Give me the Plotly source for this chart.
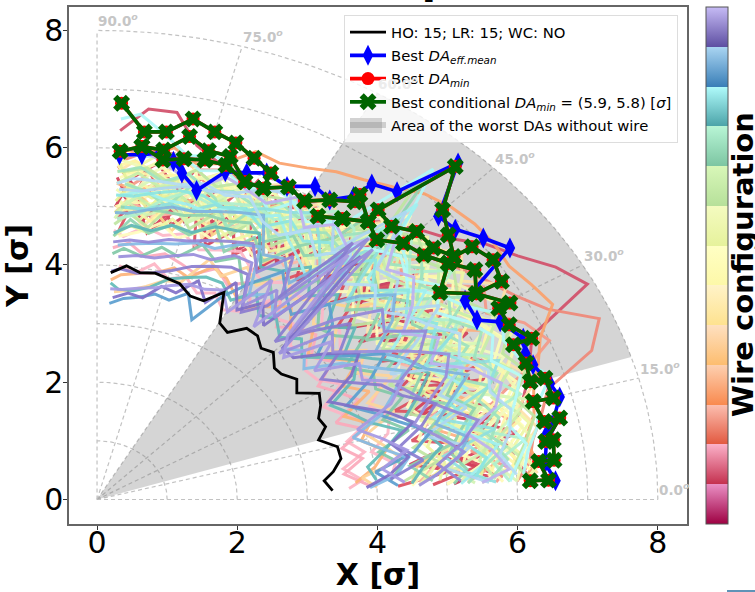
import numpy as np
import plotly.graph_objects as go

ANGLES = [3,6.5,10,13.5,17,20.5,24,27.5,31,34.5,38,41.5,45,48.5,52,55.5,59,62.5,66,69.5,73,76.5,80,83.5,87]
ANGLE_SHIFTS = [-1.2,0.8,-0.4,1.4,0.2,-0.9,1.1,-1.5,0.5,1.7,-0.7]

CRIMSON = [
[5.1,5.6,4.9,5.4,5.9,5.0,5.7,5.2,5.8,4.9,5.5,5.9,5.1,5.6,5.0,5.4,4.8,5.3,4.7,5.1,5.6,4.9,5.3,4.8,5.2],
[5.8,5.2,6.1,5.5,4.9,5.7,5.1,6.0,5.3,4.8,5.6,5.0,5.9,5.2,4.7,5.4,4.9,5.5,5.0,4.6,5.2,4.8,5.4,5.0,5.5],
[4.8,5.5,5.0,5.9,5.3,6.0,4.7,5.4,4.9,5.7,5.1,5.6,4.8,5.5,5.8,5.0,5.6,4.7,5.3,5.6,4.9,5.3,4.7,5.2,4.8],
[5.4,4.7,5.6,5.0,5.8,4.9,5.5,4.8,5.6,5.2,4.6,5.3,5.7,4.9,5.3,5.9,5.2,5.8,5.4,5.0,5.7,5.4,5.8,5.5,5.0],
[6.2,6.0,5.9,6.2,6.4,6.6,6.8,7.9,7.65,7.3,7.05,6.7,6.5,6.3,6.0,5.7,5.8,5.6,5.7,5.9,6.0,6.2,6.7,6.7,6.3],
[4.3,5.1,5.8,4.6,5.3,4.5,6.0,5.6,4.7,5.9,5.0,4.5,5.4,6.0,5.1,4.6,5.7,5.0,4.6,5.4,4.5,5.9,5.1,5.7,4.6],
[5.6,4.5,5.3,5.8,4.7,5.4,4.9,5.2,6.1,4.6,5.9,5.2,4.6,5.1,5.6,5.2,4.5,5.6,5.9,4.7,5.3,5.1,4.6,5.4,5.7],
]
CRIMSON_COLORS = ['#c83a5c','#d4405a','#d94a5c','#cf3a52','#d2506a','#dd5060','#d4405a']

PINK = [
[3.6,3.8,3.55,3.9,3.7,4.1,3.8,3.6,4.0,3.75,3.7,3.9,3.8,4.1,4.0,4.2,3.8,3.7,3.9,3.8,4.0,3.9,4.1,3.9,4.0],
[3.9,3.55,3.85,3.6,4.0,3.65,4.1,3.9,3.7,4.1,3.9,4.2,4.1,3.9,4.3,3.9,4.3,4.1,4.3,4.1,4.2,4.3,4.2,4.4,4.3],
[4.2,4.3,4.0,4.3,4.4,4.2,4.5,4.3,4.5,4.3,4.5,4.4,4.7,4.5,4.6,4.4,4.5,4.7,4.6,4.5,4.7,4.6,4.7,4.5,4.6],
]
PINK_COLORS = ['#fdb5c5','#fbaabb','#fdb8c8']

SALMON = [
[6.0,6.2,6.3,6.5,6.7,7.5,7.8,7.2,6.9,6.7,6.5,6.3,6.4,6.1,5.9,5.7,5.9,5.7,5.5,5.8,5.9,5.8,6.0,6.0,5.8],
[5.7,5.9,5.4,6.1,5.8,6.4,7.0,6.8,6.4,6.6,6.1,5.7,6.0,5.6,5.3,5.6,5.2,5.5,5.7,5.3,5.5,5.7,5.4,5.6,5.3],
[4.6,4.9,5.2,4.8,5.1,5.5,5.2,4.9,5.4,5.0,5.3,4.8,5.2,4.9,5.2,4.8,5.0,4.8,5.1,4.9,5.1,5.0,4.9,5.1,4.9],
]
SALMON_COLORS = ['#f08878','#f59a88','#fcb8a8']

ORANGE = [
[6.1,6.3,6.2,6.4,6.5,6.7,6.9,7.3,7.2,7.1,7.15,7.15,7.1,7.0,6.8,6.65,6.55,6.4,6.3,6.35,6.0,5.9,6.1,5.9,6.0],
[3.7,4.0,4.2,3.9,4.1,3.8,4.3,4.0,4.4,4.1,3.9,4.2,4.0,4.3,4.1,3.9,4.0,4.2,4.3,4.0,4.1,3.95,3.9,3.85,3.75],
[5.3,5.8,5.5,5.0,5.6,5.3,5.9,6.2,5.6,6.0,5.7,6.2,5.6,5.9,5.5,5.8,5.5,5.3,5.5,5.2,5.4,5.2,5.5,5.3,5.4],
]
ORANGE_COLORS = ['#fba26c','#fdb47a','#fdb080']

AMBER = [
[4.0,3.8,4.4,4.2,4.0,4.5,4.2,4.7,4.3,4.6,4.2,4.5,4.3,4.6,4.4,4.7,4.3,4.5,4.2,4.4,3.9,3.85,3.7,3.6,3.55],
[6.3,6.1,6.4,6.2,6.6,6.3,6.7,6.5,6.9,6.4,6.7,6.3,6.5,6.2,5.8,6.1,5.7,6.0,5.8,6.0,5.7,5.9,5.6,5.8,5.6],
[5.0,5.3,4.7,5.6,4.9,5.8,5.3,5.5,5.0,5.4,4.8,5.1,5.5,5.2,5.7,5.0,5.4,5.1,4.8,5.5,4.7,5.4,5.2,4.7,5.1],
[4.5,4.6,5.1,4.9,5.5,5.1,4.9,5.2,5.6,5.1,5.5,4.9,4.7,5.4,4.9,5.3,4.7,5.2,5.3,4.8,5.3,4.7,5.0,5.3,4.9],
]
AMBER_COLORS = ['#fed49a','#fee2a8','#ffe6b0','#fdd48a']

YELLOW = [
[6.2,5.9,6.2,6.0,6.3,6.1,6.4,6.2,6.0,6.3,6.0,6.4,6.1,6.3,5.7,5.9,5.6,5.8,5.6,5.5,5.7,5.6,5.8,5.5,5.7],
[5.5,6.0,5.7,6.2,5.6,5.9,6.1,5.7,6.2,5.8,6.3,5.8,6.2,5.7,5.4,5.7,5.3,5.5,5.2,5.6,5.3,5.5,5.2,5.4,5.2],
[5.0,5.4,5.9,5.3,5.7,5.2,5.6,6.0,5.5,6.0,5.4,5.9,5.3,5.8,5.2,5.5,5.1,5.6,5.0,5.3,5.5,5.0,5.5,5.2,5.4],
[4.7,5.1,5.3,5.7,5.2,5.5,5.0,5.4,5.1,5.5,5.7,5.2,5.6,5.1,5.5,4.9,5.3,4.9,5.3,4.9,5.0,5.3,4.8,5.0,4.9],
[5.8,5.6,5.1,5.4,6.0,5.7,5.3,5.8,5.9,5.3,5.1,5.6,5.9,6.0,5.0,5.2,5.7,5.2,5.6,5.7,5.2,5.8,5.4,5.7,5.5],
[5.2,5.3,5.5,5.2,5.4,5.6,5.3,5.6,5.4,5.7,5.5,5.3,5.6,5.4,5.3,5.6,5.4,5.5,5.1,5.3,5.1,5.2,5.1,5.1,5.0],
[5.9,6.0,5.8,6.0,5.9,6.2,6.0,6.3,6.1,6.2,6.0,6.2,6.0,6.2,5.8,5.6,5.5,5.6,5.4,5.7,5.5,5.7,5.6,5.6,5.6],
[4.5,4.7,4.9,4.7,4.9,4.7,5.0,4.8,5.0,4.8,5.0,4.8,5.1,4.8,5.1,4.8,4.9,4.7,4.9,4.7,4.8,4.6,4.8,4.6,4.5],
[5.6,5.8,5.6,5.9,5.7,5.9,5.8,5.9,5.7,5.9,5.8,6.0,5.9,5.6,5.5,5.4,5.6,5.4,5.7,5.6,5.6,5.5,5.6,5.8,5.7],
]
YELLOW_COLORS = ['#ffffb5','#fff7a8','#ffffc0','#fef6a5','#fffbb8']

CITRON = [
[6.1,6.3,6.0,6.3,6.1,6.4,6.2,6.6,6.3,6.1,6.5,6.1,6.5,6.0,5.6,5.5,5.8,5.9,5.4,5.7,5.8,5.4,5.7,5.9,5.6],
[5.2,5.7,5.5,5.9,5.5,6.2,5.7,6.3,5.8,6.2,5.6,6.0,5.4,6.1,5.3,5.8,5.4,5.2,5.5,5.1,5.6,5.2,5.6,5.1,5.3],
[4.9,5.2,5.6,5.1,5.9,5.4,6.0,5.1,5.7,5.6,5.2,5.5,5.8,5.4,5.6,5.1,5.9,5.4,5.1,5.5,4.9,5.6,5.0,5.4,5.8],
[4.6,4.8,5.0,5.5,4.8,5.6,4.8,5.7,5.2,4.8,5.9,5.4,5.0,5.7,4.9,5.4,4.9,5.7,5.2,4.8,5.4,5.0,5.3,4.8,5.1],
[5.6,5.4,6.0,5.7,6.2,5.8,6.3,5.9,5.4,6.4,5.8,6.2,5.7,6.6,5.9,5.3,5.5,5.0,5.8,5.5,5.0,5.5,5.9,5.6,5.0],
[4.9,5.0,4.8,5.0,5.2,5.0,5.3,5.1,5.3,5.0,5.3,5.1,5.4,5.2,5.0,5.2,4.9,5.1,4.8,5.0,4.7,4.9,4.6,4.7,4.5],
[6.0,6.1,6.3,6.1,6.3,6.2,6.5,6.3,6.6,6.4,6.2,6.5,6.3,6.1,6.0,5.8,6.0,5.7,5.9,5.6,5.8,5.6,5.9,5.7,5.8],
[5.5,5.6,5.4,5.6,5.4,5.7,5.5,5.8,5.5,5.7,5.9,5.6,5.8,5.5,5.7,5.5,5.3,5.4,5.2,5.4,5.5,5.3,5.2,5.4,5.1],
]
CITRON_COLORS = ['#eef7a5','#f2f9b5','#e8f29a','#eef8aa','#f4fbc0']

LIME = [
[5.9,6.1,5.8,6.2,5.9,6.3,6.0,6.4,6.1,5.9,6.2,6.5,6.2,5.9,5.4,5.7,5.2,5.6,5.3,5.6,5.1,5.3,5.0,5.2,4.9],
[5.4,5.1,5.7,5.3,5.7,5.2,5.7,5.3,6.0,5.4,6.0,5.5,6.0,5.3,5.8,5.2,5.6,5.3,5.7,5.2,5.7,5.1,5.5,5.3,5.0],
[4.4,4.9,4.6,5.2,4.7,5.0,4.6,5.6,4.8,5.3,4.7,5.1,5.3,7.0,5.2,5.5,5.0,5.5,4.9,5.2,4.8,5.2,4.7,4.9,4.7],
[6.0,5.8,5.5,5.9,6.4,5.6,5.5,6.1,5.2,5.7,5.4,5.8,5.6,6.3,5.7,5.4,5.2,5.9,5.0,5.8,5.4,4.9,5.3,5.5,5.2],
[5.7,5.5,5.7,5.5,5.7,5.5,5.8,5.6,5.8,5.6,5.8,5.6,5.8,5.6,5.4,5.6,5.4,5.6,5.3,5.4,5.2,5.5,5.4,5.6,5.4],
[5.0,5.2,5.1,5.3,5.1,5.4,5.2,5.5,5.2,5.5,5.2,5.4,5.1,5.4,5.1,5.3,5.1,5.3,5.0,5.2,4.9,5.1,4.9,5.1,4.8],
[6.2,6.0,6.2,6.4,6.2,6.5,6.3,6.6,6.4,6.2,6.4,6.2,6.4,6.2,5.9,5.9,5.7,5.8,5.7,5.8,5.6,5.8,5.5,5.7,5.6],
]
LIME_COLORS = ['#c8eeaa','#d2f4b4','#bfe6a2','#d8f7b8']

MINT = [
[5.3,5.5,5.9,5.6,6.0,5.9,5.4,5.9,5.7,6.3,5.7,6.1,5.8,6.4,5.5,5.6,5.4,5.1,5.6,5.0,5.4,5.6,5.1,5.3,5.4],
[4.8,4.5,5.2,4.9,5.3,4.8,5.1,4.7,5.4,4.7,5.2,4.8,5.4,7.2,5.6,5.2,4.7,5.0,4.6,5.0,4.7,4.8,4.6,4.8,4.5],
[5.9,5.7,6.2,5.4,6.3,6.0,6.1,5.5,6.0,5.5,6.4,5.9,6.3,5.5,5.9,6.0,5.7,5.4,5.5,5.4,5.3,5.4,5.2,4.9,4.8],
[4.2,4.4,4.1,4.6,4.3,4.7,4.4,4.5,4.2,4.7,4.4,4.3,4.6,4.9,4.2,4.5,4.2,4.6,4.4,4.6,4.3,4.4,4.2,4.3,4.2],
[5.6,5.9,5.7,5.9,5.7,6.1,5.9,6.2,5.9,6.1,5.9,6.2,5.9,6.1,5.7,5.8,5.6,5.7,5.5,5.6,5.5,5.7,5.5,5.7,5.6],
[5.1,5.3,5.1,5.3,5.6,5.3,5.6,5.3,5.6,5.4,5.6,5.3,5.5,5.2,5.4,5.1,5.3,5.0,5.2,5.1,5.1,5.0,5.0,5.0,5.0],
]
MINT_COLORS = ['#9fe3bf','#8fd4b0','#b0f0cf','#82c9a8']

TEAL = [
[6.1,6.2,6.4,6.5,6.8,6.5,6.4,6.6,6.2,6.0,5.7,6.0,6.2,7.4,5.9,5.7,5.9,5.5,5.8,6.0,6.1,6.0,6.3,6.6,6.5],
[5.7,5.3,5.0,5.8,5.1,5.9,6.2,5.2,5.9,5.2,5.0,5.5,4.9,6.0,5.0,5.4,5.8,5.6,5.5,5.3,5.3,5.1,5.15,5.0,5.0],
[4.5,4.7,5.0,4.8,4.6,4.9,5.2,5.0,4.6,4.3,4.7,4.4,4.9,4.6,5.0,4.7,4.6,5.1,5.0,4.95,4.75,4.8,4.65,4.7,4.55],
[4.0,3.9,4.2,4.5,4.1,3.9,3.7,4.2,4.4,4.1,3.8,4.0,3.8,4.0,3.9,4.2,3.9,4.1,4.1,4.0,3.9,3.7,3.6,3.6,3.7],
[5.2,5.5,5.8,5.3,5.0,5.6,5.4,5.1,4.8,5.3,5.9,5.3,5.4,6.8,4.8,5.0,5.2,5.5,5.3,5.35,5.15,5.2,5.2,5.3,5.2],
[5.9,6.0,6.2,6.0,6.2,6.4,6.1,6.3,6.1,5.8,6.1,5.8,6.0,5.8,5.6,5.8,5.6,5.8,5.9,5.7,5.9,5.8,6.0,5.9,5.9],
[5.4,5.6,5.3,5.5,5.3,5.6,5.7,5.4,5.7,5.4,5.7,5.3,5.7,5.3,5.5,5.3,5.5,5.2,5.4,5.3,5.4,5.4,5.3,5.2,5.2],
]
TEAL_COLORS = ['#aef8f8','#8fe0e0','#5fb8b8','#62bcb8','#a0f0f0','#b4fafa','#8ce6e2']

BLUE = [
[5.6,5.0,5.4,4.8,5.5,5.2,5.7,4.7,5.3,5.9,5.3,5.7,5.6,6.6,5.4,5.9,5.3,5.9,5.8,5.6,5.5,5.5,5.4,5.3,5.3],
[4.8,5.2,5.4,5.0,5.3,5.7,5.2,5.0,4.7,5.2,5.5,5.1,4.5,5.5,4.6,4.9,4.8,5.4,5.3,5.2,5.1,5.1,5.0,4.9,4.9],
[4.3,4.0,4.6,4.9,4.5,4.2,3.9,4.4,4.8,4.3,4.0,4.5,4.7,4.2,4.4,4.7,4.3,3.9,3.35,3.75,3.55,3.6,3.5,3.45,3.35],
[3.9,4.3,4.5,4.1,3.8,4.3,4.6,4.9,4.5,4.2,3.7,3.9,3.7,5.3,4.0,4.3,4.1,4.9,4.8,4.6,4.6,4.5,4.45,4.4,4.35],
[6.0,5.8,6.0,6.1,5.9,6.0,5.7,5.9,5.6,5.4,5.1,5.4,5.1,5.6,5.2,5.5,5.2,5.3,5.6,5.5,5.6,5.5,5.5,5.5,5.4],
]
BLUE_COLORS = ['#aed6f2','#7fb4de','#5c9fd0','#85bce6','#b4dcf6']

PURPLE = [
[5.5,5.9,5.7,5.4,5.9,6.1,5.8,5.3,5.6,5.2,5.6,5.9,5.7,6.3,5.6,5.8,5.5,5.9,5.6,5.7,5.8,5.5,5.7,5.9,6.0],
[5.2,4.9,5.3,5.6,5.2,4.9,4.7,5.2,5.5,5.0,5.2,4.6,3.9,5.9,4.3,5.0,4.5,4.9,4.8,4.7,4.6,4.55,4.45,4.45,4.4],
[4.2,4.7,4.4,4.8,5.1,4.7,4.5,4.1,3.8,4.3,4.7,4.2,3.7,5.7,4.1,3.8,4.4,4.4,4.3,4.2,4.05,3.95,3.9,3.95,3.9],
[3.85,4.2,4.5,4.3,4.7,4.4,4.0,3.7,4.2,4.5,4.1,3.7,3.7,5.6,3.8,4.1,3.8,4.2,3.7,4.0,3.7,3.75,3.5,3.55,3.45],
[4.6,4.9,5.3,5.0,4.7,5.0,5.4,5.6,5.1,4.6,4.2,4.4,3.6,5.8,4.0,4.4,3.9,4.6,4.6,4.4,4.4,4.3,4.2,4.2,4.15],
[4.4,4.1,4.5,4.2,3.9,4.5,4.8,4.3,4.4,3.8,4.3,3.6,3.9,5.5,3.7,4.5,3.7,4.0,3.9,3.9,3.8,3.7,3.65,3.6,3.6],
]
PURPLE_COLORS = ['#bdb2f0','#9488d8','#8a7dd0','#7f70c8','#9a8edc','#a69ae4']

NOMINAL_X = [0.195,0.42,0.61,0.83,1.18,1.33,1.52,1.81,1.75,1.86,2.135,2.29,2.34,2.515,2.53,2.63,2.85,2.85,3.17,3.19,3.16,3.26,3.16,3.43,3.48,3.37,3.24,3.36]
NOMINAL_Y = [3.87,3.985,3.87,3.86,3.68,3.47,3.39,3.53,3.01,2.85,2.92,2.79,2.58,2.51,2.24,2.14,2.05,1.82,1.81,1.61,1.385,1.24,1.015,0.90,0.70,0.475,0.32,0.15]

BEST_MEAN_X = [0.32,0.64,0.90,1.09,1.21,1.42,1.83,2.135,2.42,2.71,3.11,3.32,3.66,3.92,4.28,5.15,4.87,5.11,5.51,5.89,5.25,5.42,5.75,6.08,6.11,6.22,6.46,6.60,6.49,6.42,6.39,6.54]
BEST_MEAN_Y = [5.88,5.88,5.91,5.77,5.57,5.27,5.59,5.57,5.57,5.34,5.34,5.11,5.17,5.38,5.25,5.74,4.83,4.61,4.46,4.29,3.40,3.06,3.03,2.75,2.49,2.30,1.98,1.75,1.27,1.13,0.62,0.32]

BEST_COND_X = [0.35,0.675,0.99,1.37,1.68,1.98,2.24,2.48,2.37,2.11,1.84,1.54,1.24,0.94,0.64,0.33,0.64,0.95,1.32,1.59,1.90,2.11,2.37,2.73,2.96,3.32,3.68,3.75,3.87,3.50,3.15,3.50,3.87,3.99,4.37,4.66,5.01,4.89,5.41,5.39,5.01,5.09,5.01,4.93,5.11,4.01,4.20,4.56,4.80,5.09,5.35,5.65,5.77,5.41,5.89,5.73,5.88,6.20,5.94,6.12,6.18,6.39,6.51,6.22,6.38,6.60,6.40,6.51,6.52,6.30,6.44,6.18]
BEST_COND_Y = [6.76,6.27,6.27,6.49,6.27,6.08,5.82,5.57,5.31,5.42,5.70,5.79,5.81,5.79,6.02,5.94,6.02,5.96,6.19,5.95,5.85,5.42,5.31,5.33,5.09,5.11,5.08,5.20,4.74,4.79,4.83,4.79,4.74,4.43,4.37,4.17,4.03,3.53,3.51,3.92,4.03,4.14,4.51,4.94,5.68,4.94,4.66,4.57,4.29,4.14,4.31,4.09,3.72,3.51,3.35,3.26,2.98,2.75,2.64,2.33,2.01,2.07,1.73,1.67,1.33,1.39,0.99,1.02,0.67,0.65,0.33,0.32]

WEDGE_ANGLES = [17.7, 60.0]
WEDGE_RADIUS = 8.0
RINGS = [1,2,3,4,5,6,7,8]
RAYS = [0,15,30,45,60,75,90]
X_TICKS = [0,2,4,6,8]
Y_TICKS = [0,2,4,6,8]
# colour bar bands, bottom to top: (dark, light)
BANDS = [('#9e0142','#ea8fc4'),('#c4304e','#fbb0c8'),('#e2583f','#fcbfb0'),('#f98a4f','#fdd0b0'),
         ('#fdbd6f','#fee0c0'),('#fee28f','#fff3c8'),('#fdf8a8','#ffffc4'),('#e6f29c','#f4fbc0'),
         ('#b6e09a','#d8f7b8'),('#7cc5a2','#b8f5d5'),('#4ba3a8','#b0fbfb'),('#3a7fb8','#aad5f2'),
         ('#5e4fa2','#c6bbf5')]

scale = []
for i, (dark, light) in enumerate(BANDS):
    scale += [[i / len(BANDS), dark], [(i + 1) / len(BANDS), light]]

fig = go.Figure()
th = np.radians(np.linspace(0, 90, 91))
grid = dict(color='#c2c2c2', width=1.2, dash='4px,3px')
for r in RINGS:
    fig.add_trace(go.Scatter(x=r*np.cos(th), y=r*np.sin(th), mode='lines', line=grid, showlegend=False, hoverinfo='skip'))
for a in RAYS:
    fig.add_trace(go.Scatter(x=[0, 8*np.cos(np.radians(a))], y=[0, 8*np.sin(np.radians(a))], mode='lines', line=grid, showlegend=False, hoverinfo='skip'))

w = np.radians(np.linspace(WEDGE_ANGLES[0], WEDGE_ANGLES[1], 60))
fig.add_trace(go.Scatter(x=np.r_[0, WEDGE_RADIUS*np.cos(w), 0], y=np.r_[0, WEDGE_RADIUS*np.sin(w), 0],
    mode='none', fill='toself', fillcolor='rgba(128,128,128,0.33)', name='Area of the worst DAs without wire', legendrank=5, legendgroup='e', hoverinfo='skip'))

GROUPS = [(CRIMSON,CRIMSON_COLORS),(PINK,PINK_COLORS),(SALMON,SALMON_COLORS),(ORANGE,ORANGE_COLORS),
          (AMBER,AMBER_COLORS),(YELLOW,YELLOW_COLORS),(CITRON,CITRON_COLORS),(LIME,LIME_COLORS),
          (MINT,MINT_COLORS),(TEAL,TEAL_COLORS),(BLUE,BLUE_COLORS),(PURPLE,PURPLE_COLORS)]
n = 0
for rows, cols in GROUPS:
    for k, row in enumerate(rows):
        rr = np.array(row)
        ang = np.radians(np.clip(np.array(ANGLES) + ANGLE_SHIFTS[n % len(ANGLE_SHIFTS)], 3, 87))
        n += 1
        fig.add_trace(go.Scatter(x=rr*np.cos(ang), y=rr*np.sin(ang), mode='lines',
                                 line=dict(color=cols[k % len(cols)], width=3), opacity=0.92, showlegend=False, hoverinfo='skip'))

fig.add_trace(go.Scatter(x=NOMINAL_X, y=NOMINAL_Y, mode='lines', line=dict(color='black', width=2.8),
                         name='HO: 15; LR: 15; WC: NO', legendrank=1, legendgroup='a'))
fig.add_trace(go.Scatter(x=BEST_MEAN_X, y=BEST_MEAN_Y, mode='lines+markers', line=dict(color='#0000ff', width=3.6),
                         marker=dict(symbol='diamond-tall', size=15, color='#0000ff'),
                         name='Best <i>DA<sub>eff.mean</sub></i>', legendrank=2, legendgroup='b'))
fig.add_trace(go.Scatter(x=BEST_COND_X, y=BEST_COND_Y, mode='lines+markers', line=dict(color='#ff0000', width=3.6),
                         marker=dict(symbol='circle', size=13, color='#ff0000'),
                         name='Best <i>DA<sub>min</sub></i>', legendrank=3, legendgroup='c'))
fig.add_trace(go.Scatter(x=BEST_COND_X, y=BEST_COND_Y, mode='lines+markers', line=dict(color='#006400', width=3.6),
                         marker=dict(symbol='x', size=15, color='#006400'),
                         name='Best conditional <i>DA<sub>min</sub></i> = (5.9, 5.8) [<i>σ</i>]', legendrank=4, legendgroup='d'))

# colour bar carrier, outside the visible range
fig.add_trace(go.Scatter(x=[-5, -5], y=[-5, -5], mode='markers', showlegend=False, hoverinfo='skip',
    marker=dict(color=[0, 1], cmin=0, cmax=1, colorscale=scale, size=1, showscale=True,
        colorbar=dict(xref='container', x=706/755, xanchor='left', yref='paper', y=0, yanchor='bottom',
                      thickness=22, thicknessmode='pixels', len=1, lenmode='fraction', xpad=0, ypad=0,
                      outlinecolor='#555555', outlinewidth=1, ticks='', showticklabels=False))))

annotations = []
for a in RAYS:
    annotations.append(dict(x=8*np.cos(np.radians(a)), y=8*np.sin(np.radians(a)), xref='x', yref='y', showarrow=False,
        text=f'<b>{a:.1f}<i><sup>o</sup></i></b>', xanchor='left', yanchor='bottom', borderpad=0,
        font=dict(family='DejaVu Sans', size=13.5, color='#ececec' if a == 60 else '#c6c6c6')))
annotations.append(dict(x=(743-69)/618, y=(524-265)/517, xref='paper', yref='paper', showarrow=False, textangle=-90,
    text='<b>Wire configuration</b>', font=dict(family='DejaVu Sans', size=29, color='black'), xanchor='center', yanchor='middle'))
annotations.append(dict(x=(429-69)/618, y=1+1/517, xref='paper', yref='paper', showarrow=False, yanchor='bottom',
    text='<b>2</b>', font=dict(family='DejaVu Sans', size=14, color='black'), borderpad=0))
fig.update_layout(
    width=755, height=592, margin=dict(l=69, r=68, t=7, b=68, autoexpand=False),
    plot_bgcolor='white', paper_bgcolor='white', font=dict(family='DejaVu Sans', color='black'),
    annotations=annotations,
    shapes=[dict(type='line', xref='paper', yref='paper', x0=(727-69)/618, x1=(755-69)/618, y0=-(591-524)/517, y1=-(591-524)/517,
                 line=dict(color='#2a6f9f', width=1.5)),
            dict(type='rect', xref='paper', yref='paper', layer='above', x0=(350-69)/618, x1=(382-69)/618,
                 y0=(524-133)/517, y1=(524-118)/517, fillcolor='#1e1e1e', line=dict(width=0))],
    legend=dict(x=(344-69)/618, y=1-(15-7)/517, xanchor='left', yanchor='top', bgcolor='rgba(255,255,255,0.8)',
                bordercolor='#dddddd', borderwidth=1, font=dict(size=14.8, family='DejaVu Sans'), itemwidth=36,
                traceorder='grouped', tracegroupgap=1),
    xaxis=dict(range=[-0.4, 8.416], tickvals=X_TICKS, showgrid=False, zeroline=False, showline=True, mirror=True,
               linecolor='#666666', linewidth=1.5, ticks='outside', ticklen=4, tickcolor='#333333', ticklabelstandoff=-13,
               tickfont=dict(size=30), title=dict(text='<b>X [σ]</b>', font=dict(size=30), standoff=17)),
    yaxis=dict(range=[-0.418, 8.40], tickvals=Y_TICKS, showgrid=False, zeroline=False, showline=True, mirror=True,
               linecolor='#666666', linewidth=1.5, ticks='outside', ticklen=4, tickcolor='#333333', ticklabelstandoff=-6,
               tickfont=dict(size=30), title=dict(text='<b>Y [σ]</b>', font=dict(size=30), standoff=10)),
)
fig.write_html("out.html", config=dict(displayModeBar=False),
               post_script="document.body.style.margin='0';document.body.style.overflow='hidden';")
